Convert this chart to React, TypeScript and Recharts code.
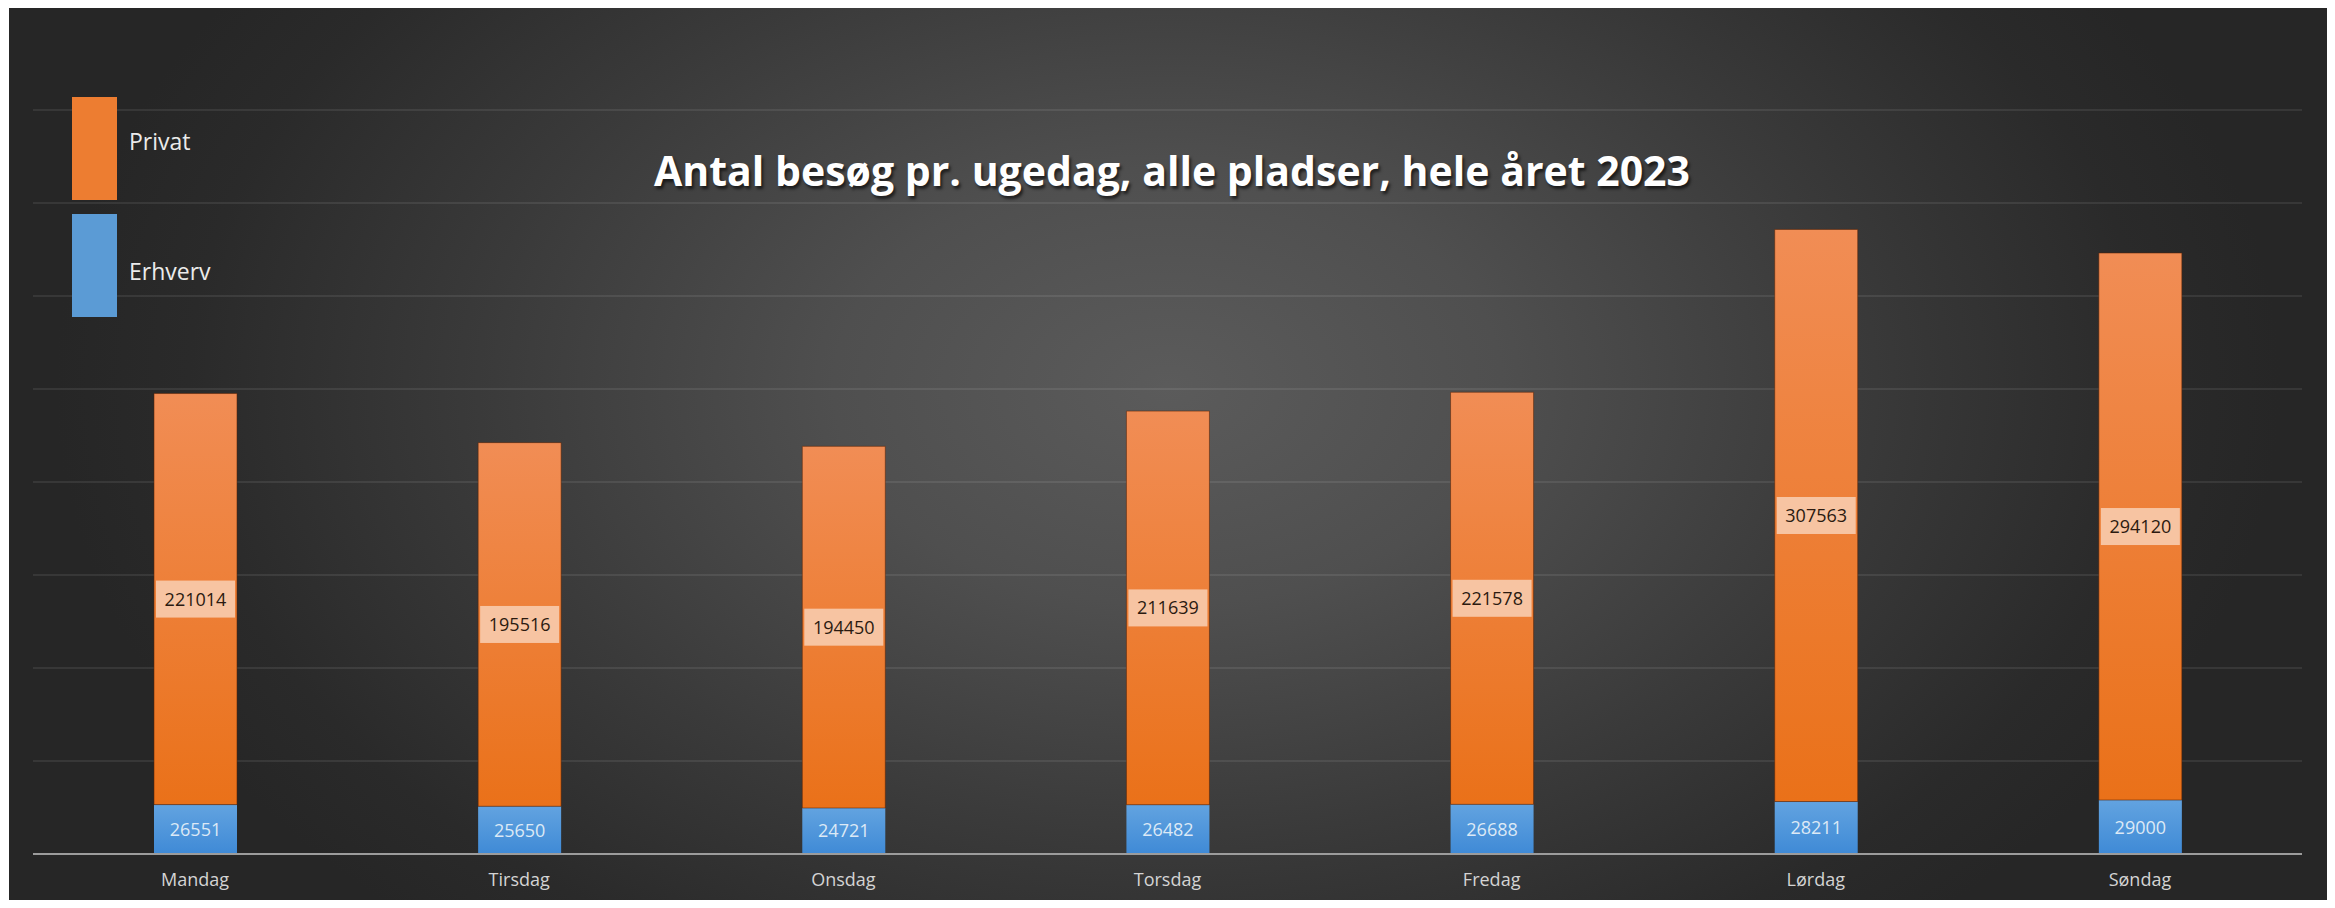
import React from "react";
import { BarChart, Bar, XAxis, YAxis, CartesianGrid, LabelList } from "recharts";

const days = ["Mandag", "Tirsdag", "Onsdag", "Torsdag", "Fredag", "Lørdag", "Søndag"];
const erhverv = [26551, 25650, 24721, 26482, 26688, 28211, 29000];
const privat = [221014, 195516, 194450, 211639, 221578, 307563, 294120];
const yTicks = [0, 50000, 100000, 150000, 200000, 250000, 300000, 350000, 400000];

const title = "Antal besøg pr. ugedag, alle pladser, hele året 2023";

const data = days.map((day, i) => ({ day, Erhverv: erhverv[i], Privat: privat[i] }));

const legendItems = [
  { name: "Privat", color: "#ed7d31", top: 97, textTop: 130 },
  { name: "Erhverv", color: "#5b9bd5", top: 214, textTop: 260 },
];

const FONT = "'Open Sans', sans-serif";

function PrivatLabel(props: any) {
  const { x, y, width, height, value } = props;
  const cx = x + width / 2;
  const cy = y + height / 2;
  const bw = width - 4;
  const bh = 37;
  return (
    <g>
      <rect x={cx - bw / 2} y={cy - bh / 2} width={bw} height={bh} fill="#f7c4a2" />
      <text x={cx} y={cy} dy="0.36em" textAnchor="middle" fontSize={18} fontFamily={FONT} fill="#2b1a10">
        {value}
      </text>
    </g>
  );
}

function ErhvervLabel(props: any) {
  const { x, y, width, height, value } = props;
  return (
    <text x={x + width / 2} y={y + height / 2} dy="0.36em" textAnchor="middle" fontSize={18} fontFamily={FONT} fill="#dce9f6">
      {value}
    </text>
  );
}

function DayTick(props: any) {
  const { x, y, payload } = props;
  return (
    <text x={x} y={y + 32} textAnchor="middle" fontSize={18} fontFamily={FONT} fill="#d4d4d4">
      {payload.value}
    </text>
  );
}

export default function App() {
  return (
    <div
      style={{
        position: "relative",
        width: 2335,
        height: 908,
        margin: -8,
        background: "#ffffff",
        overflow: "hidden",
        fontFamily: FONT,
      }}
    >
      <div
        style={{
          position: "absolute",
          left: 9,
          top: 4,
          width: 2318,
          height: 910,
          background:
            "radial-gradient(ellipse 48% 80% at 50% 42%, #5b5b5b 0%, #4f4f4f 30%, #3a3a3a 62%, #2a2a2a 88%, #262626 100%)",
        }}
      />

      <div style={{ position: "absolute", left: 0, top: 0 }}>
        <BarChart
          width={2335}
          height={908}
          data={data}
          margin={{ top: 110, right: 33, bottom: 14, left: 33 }}
          barCategoryGap="37%"
        >
          <defs>
            <linearGradient id="gradPrivat" x1="0" y1="0" x2="0" y2="1">
              <stop offset="0%" stopColor="#f18d55" />
              <stop offset="100%" stopColor="#ea7119" />
            </linearGradient>
            <linearGradient id="gradErhverv" x1="0" y1="0" x2="0" y2="1">
              <stop offset="0%" stopColor="#62a3e0" />
              <stop offset="100%" stopColor="#3f8ad6" />
            </linearGradient>
          </defs>
          <CartesianGrid vertical={false} stroke="rgba(255,255,255,0.11)" strokeWidth={1.5} />
          <XAxis
            dataKey="day"
            height={40}
            tickLine={false}
            tickSize={0}
            tickMargin={0}
            axisLine={{ stroke: "#9c9c9c", strokeWidth: 2 }}
            tick={<DayTick />}
            interval={0}
          />
          <YAxis hide width={0} domain={[0, 400000]} ticks={yTicks} />
          <Bar dataKey="Erhverv" stackId="a" fill="url(#gradErhverv)" barSize={83} isAnimationActive={false}>
            <LabelList dataKey="Erhverv" content={<ErhvervLabel />} />
          </Bar>
          <Bar
            dataKey="Privat"
            stackId="a"
            fill="url(#gradPrivat)"
            stroke="rgba(90,35,5,0.55)"
            strokeWidth={1}
            barSize={83}
            isAnimationActive={false}
          >
            <LabelList dataKey="Privat" content={<PrivatLabel />} />
          </Bar>
        </BarChart>
      </div>

      <div
        style={{
          position: "absolute",
          left: 0,
          top: 150,
          width: 2344,
          textAlign: "center",
          fontSize: 41,
          lineHeight: "41px",
          fontWeight: 700,
          color: "#ffffff",
          textShadow: "2px 3px 3px rgba(0,0,0,0.6)",
          whiteSpace: "nowrap",
        }}
      >
        {title}
      </div>

      {legendItems.map((item) => (
        <React.Fragment key={item.name}>
          <div
            style={{
              position: "absolute",
              left: 72,
              top: item.top,
              width: 45,
              height: 103,
              background: item.color,
            }}
          />
          <div
            style={{
              position: "absolute",
              left: 129,
              top: item.textTop,
              fontSize: 23,
              lineHeight: "23px",
              color: "#ebebeb",
            }}
          >
            {item.name}
          </div>
        </React.Fragment>
      ))}
    </div>
  );
}
